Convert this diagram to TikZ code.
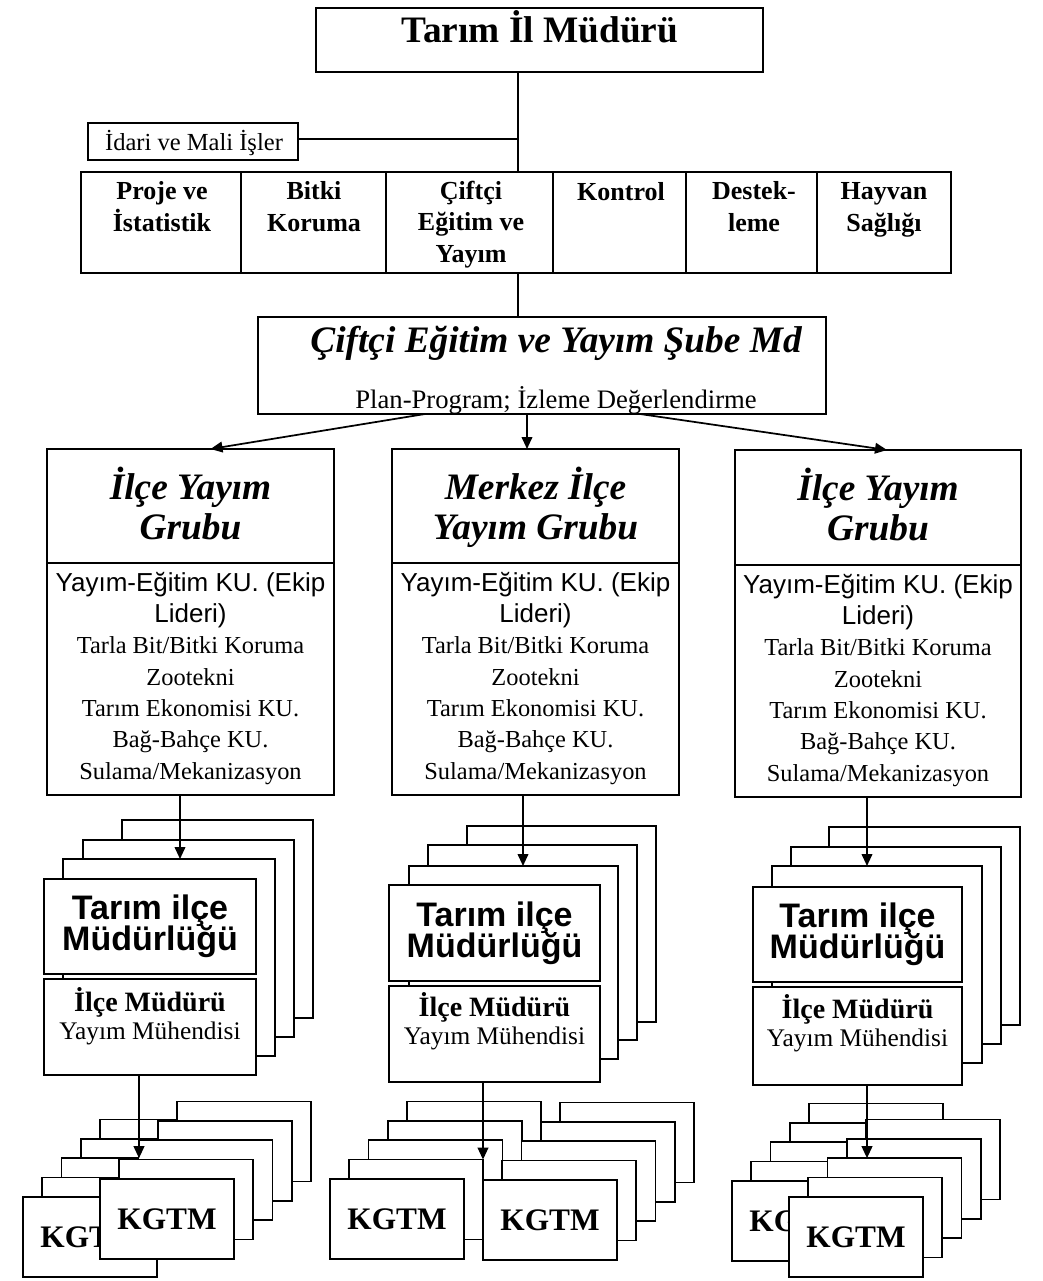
\documentclass[tikz,border=0pt]{standalone}
\usepackage{fontspec}
\setmainfont{Liberation Serif}
\setsansfont{Liberation Sans}
\usetikzlibrary{arrows.meta,calc}
\lineskiplimit=-\maxdimen
\tikzset{
  bx/.style={draw, line width=1.3pt, fill=white, inner sep=0pt, outer sep=0pt, rectangle},
  conn/.style={line width=1.3pt},
  arr/.style={line width=1.3pt, -{Triangle[length=9pt,width=8pt]}},
  tx/.style={inner sep=0pt, outer sep=0pt, align=center},
  kb/.style={bx, minimum width=100.5pt, minimum height=60pt,
    font=\fontsize{23.5}{26}\selectfont\bfseries},
}
% \rbox[opts]{name}{x1}{y1}{x2}{y2}
\newcommand\rbox[6][]{\node[bx,#1,minimum width={(#5-#3)*0.75pt},minimum height={(#6-#4)*0.75pt}] (#2) at ({(#3+#5)/2},{(#4+#6)/2}) {};}
% \kstack{prefix}{x of front left}{y of front top}
\newcommand\kstack[3]{%
  \foreach \i in {4,3,2,1}{\node[kb] (#1\i) at ({#2+67+\i*19.3},{#3+40-\i*19.4}) {};}
  \node[kb] (#10) at ({#2+67},{#3+40}) {KGTM};}
\newcommand\sfl{\sffamily\fontsize{19.5}{23.5}\selectfont}
\newcommand\bodyf{\fontsize{18.3}{23.5}\selectfont}
\newcommand\hdf{\fontsize{28}{30}\selectfont\bfseries\itshape}
\newcommand\tif{\sffamily\bfseries\fontsize{25.5}{23.3}\selectfont}
\newcommand\mdf{\fontsize{19}{21}\selectfont}
\begin{document}
\begin{tikzpicture}[x=0.75pt,y=-0.75pt]
\fill[white] (0,0) rectangle (1042,1281);
\useasboundingbox (0,0) rectangle (1042,1281);
\coordinate (j1) at (518,139);

% top
\rbox{mud}{316}{8}{763}{72}
\node[tx,anchor=base,font=\fontsize{28}{32}\selectfont\bfseries] (mudt) at (540,43) {Tarım İl Müdürü};

% idari
\rbox{idari}{88}{123}{298}{160}
\node[tx,anchor=base,font=\fontsize{18.4}{20}\selectfont] (idarit) at (194,150) {İdari ve Mali İşler};

% departments
\rbox{d1}{81}{172}{241}{273}
\rbox{d2}{241}{172}{386}{273}
\rbox{d3}{386}{172}{553}{273}
\rbox{d4}{553}{172}{686}{273}
\rbox{d5}{686}{172}{817}{273}
\rbox{d6}{817}{172}{951}{273}
\tikzset{dt/.style={tx,anchor=base,font=\fontsize{19.5}{23.3}\selectfont\bfseries}}
\node[dt] (d1t) at (162,231) {Proje ve\\İstatistik};
\node[dt] (d2t) at (314,231) {Bitki\\Koruma};
\node[dt] (d3t) at (471,262) {Çiftçi\\Eğitim ve\\Yayım};
\node[dt] (d4t) at (621,200) {Kontrol};
\node[dt] (d5t) at (754,231) {Destek-\\leme};
\node[dt] (d6t) at (884,231) {Hayvan\\Sağlığı};

% sube
\rbox{sube}{258}{317}{826}{414}
\node[tx,anchor=base,font=\fontsize{28}{30}\selectfont\bfseries\itshape] (subet) at (556,352) {Çiftçi Eğitim ve Yayım Şube Md};
\node[tx,anchor=base,font=\fontsize{20}{22}\selectfont] (subes) at (556,408) {Plan-Program; İzleme Değerlendirme};

% connectors top
\draw[conn] (j1 |- mud.south) -- (j1 |- d3.north);
\draw[conn] (idari.east |- j1) -- (j1);
\draw[conn] (j1 |- d3.south) -- (j1 |- sube.north);

% groups
\rbox{g1h}{47}{449}{334}{563}
\rbox{g1b}{47}{563}{334}{795}
\rbox{g2h}{392}{449}{679}{563}
\rbox{g2b}{392}{563}{679}{795}
\rbox{g3h}{735}{450}{1021}{565}
\rbox{g3b}{735}{565}{1021}{797}
\node[tx,anchor=base,font=\hdf] (g1ht) at (190.5,539) {İlçe Yayım\\Grubu};
\node[tx,anchor=base,font=\hdf] (g2ht) at (535.5,539) {Merkez İlçe\\Yayım Grubu};
\node[tx,anchor=base,font=\hdf] (g3ht) at (878,540) {İlçe Yayım\\Grubu};
\node[tx,anchor=base,font=\bodyf] (g1t) at (190.5,779) {{\sfl Yayım-Eğitim KU. (Ekip}\\{\sfl Lideri)}\\Tarla Bit/Bitki Koruma\\Zootekni\\Tarım Ekonomisi KU.\\Bağ-Bahçe KU.\\Sulama/Mekanizasyon};
\node[tx,anchor=base,font=\bodyf] (g2t) at (535.5,779) {{\sfl Yayım-Eğitim KU. (Ekip}\\{\sfl Lideri)}\\Tarla Bit/Bitki Koruma\\Zootekni\\Tarım Ekonomisi KU.\\Bağ-Bahçe KU.\\Sulama/Mekanizasyon};
\node[tx,anchor=base,font=\bodyf] (g3t) at (878,781) {{\sfl Yayım-Eğitim KU. (Ekip}\\{\sfl Lideri)}\\Tarla Bit/Bitki Koruma\\Zootekni\\Tarım Ekonomisi KU.\\Bağ-Bahçe KU.\\Sulama/Mekanizasyon};

\draw[arr] ($(sube.south)+(-117,0)$) -- ($(g1h.north)+(20,0)$);
\draw[arr] ($(sube.south)+(-15,0)$) -- ($(g2h.north)+(-8.5,0)$);
\draw[arr] ($(sube.south)+(98,0)$) -- ($(g3h.north)+(9,0)$);

% district stacks
\rbox{t1c}{122}{820}{313}{1018}
\rbox{t1b}{83}{840}{294}{1037}
\rbox{t1a}{63}{859}{275}{1056}
\rbox{t1}{44}{879}{256}{974}
\rbox{t1m}{44}{979}{256}{1075}
\rbox{t2c}{467}{826}{656}{1022}
\rbox{t2b}{428}{845}{637}{1040}
\rbox{t2a}{409}{866}{618}{1059}
\rbox{t2}{389}{885}{600}{981}
\rbox{t2m}{389}{986}{600}{1082}
\rbox{t3c}{829}{827}{1020}{1025}
\rbox{t3b}{791}{847}{1001}{1044}
\rbox{t3a}{772}{866}{982}{1063}
\rbox{t3}{753}{887}{962}{982}
\rbox{t3m}{753}{987}{962}{1085}
\node[tx,font=\tif] (t1t) at (t1.center) {Tarım ilçe\\Müdürlüğü};
\node[tx,font=\tif] (t2t) at (t2.center) {Tarım ilçe\\Müdürlüğü};
\node[tx,font=\tif] (t3t) at (t3.center) {Tarım ilçe\\Müdürlüğü};
\node[tx,anchor=base,font=\mdf] (t1mt) at (150,1039) {{\bfseries\fontsize{21}{21}\selectfont İlçe Müdürü}\\Yayım Mühendisi};
\node[tx,anchor=base,font=\mdf] (t2mt) at (494.5,1044) {{\bfseries\fontsize{21}{21}\selectfont İlçe Müdürü}\\Yayım Mühendisi};
\node[tx,anchor=base,font=\mdf] (t3mt) at (857.5,1046) {{\bfseries\fontsize{21}{21}\selectfont İlçe Müdürü}\\Yayım Mühendisi};

\coordinate (c180) at (180,0);
\coordinate (c523) at (523,0);
\coordinate (c867) at (867,0);
\draw[arr] (c180 |- g1b.south) -- (c180 |- t1a.north);
\draw[arr] (c523 |- g2b.south) -- (c523 |- t2a.north);
\draw[arr] (c867 |- g3b.south) -- (c867 |- t3a.north);

% KGTM stacks
\kstack{kB}{23}{1197}
\kstack{kF}{100}{1179}
\kstack{kL}{330}{1179}
\kstack{kR}{483}{1180}
\kstack{kK}{732}{1181}
\kstack{kG}{789}{1197}

\coordinate (c139) at (139,0);
\coordinate (c483) at (483,0);
\draw[arr] (c139 |- t1m.south) -- (c139 |- kB2.north);
\draw[arr] (c483 |- t2m.south) -- (c483 |- kL1.north);
\draw[arr] (c867 |- t3m.south) -- (c867 |- kG2.north);
\end{tikzpicture}
\end{document}
